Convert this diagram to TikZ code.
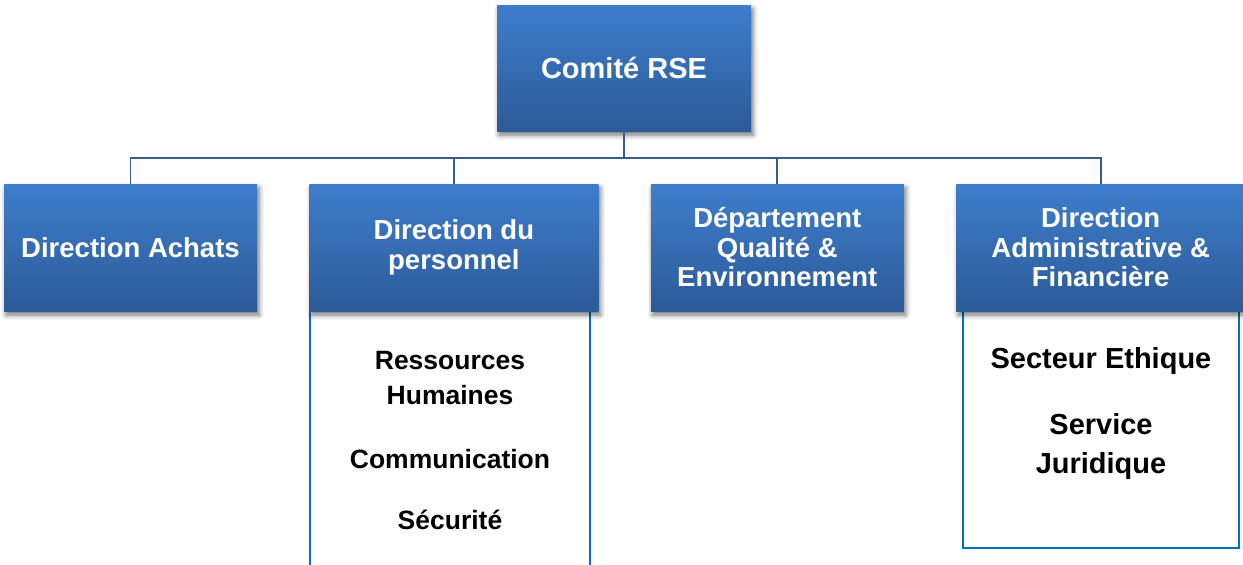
\documentclass[tikz,border=0pt]{standalone}
\usepackage{fontspec}
\setmainfont{Liberation Sans}
\usetikzlibrary{positioning, shadows.blur, backgrounds}
\definecolor{unittop}{RGB}{62,126,204}
\definecolor{unitbot}{RGB}{44,90,152}
\definecolor{linkcol}{RGB}{58,92,136}
\definecolor{framecol}{RGB}{0,112,192}
\tikzset{
  unit/.style={rectangle, top color=unittop, bottom color=unitbot, text=white,
    font=\fontsize{27.5}{29.5}\selectfont\bfseries, align=center,
    minimum height=127pt, inner sep=0pt,
    blur shadow={shadow xshift=2pt, shadow yshift=-4pt, shadow blur radius=5pt, shadow opacity=55}},
  link/.style={draw=linkcol, line width=1.8pt},
  subframe/.style={draw=framecol, line width=1.8pt},
  sublabel/.style={align=center, font=\fontsize{26.5}{35}\selectfont\bfseries},
  sublabelbig/.style={align=center, font=\fontsize{29}{39}\selectfont\bfseries}
}

\begin{document}
\begin{tikzpicture}[x=1pt, y=-1pt]
        \useasboundingbox (0,0) rectangle (1243,565);

		% frames under the units
		\draw[subframe] (310,300) -- (310,570);
		\draw[subframe] (590,300) -- (590,570);
		\draw[subframe] (963,300) rectangle (1239,548);

		\node[unit, minimum width=254pt, minimum height=126pt, font=\fontsize{29}{31}\selectfont\bfseries] (rse) at (624,68) {Comité RSE};

		\node[unit, minimum width=253pt] (achats) at (130.5,247.5) {Direction Achats};
		\node[unit, minimum width=289pt, right=52pt of achats] (perso) {Direction du\\personnel};
		\node[unit, minimum width=253pt, right=52pt of perso] (qualite) {Département\\Qualité \&\\Environnement};
		\node[unit, minimum width=289pt, right=52pt of qualite] (admin) {Direction\\Administrative \&\\Financière};

		\coordinate (bus) at (624,158);
		\draw[link] (rse.south) -- (bus);
		\foreach \n in {achats,perso,qualite,admin}
		\draw[link] (bus) -| (\n.north);

		\node[sublabel] (rh) at (450,378.5) {Ressources\\Humaines};
		\node[sublabel] (comm) at (450,459) {Communication};
		\node[sublabel] (secu) at (450,520) {Sécurité};

		\node[sublabelbig] (ethique) at (1101,361) {Secteur Ethique};
		\node[sublabelbig] (juri) at (1101,446.5) {Service\\Juridique};

	\end{tikzpicture}
\end{document}
